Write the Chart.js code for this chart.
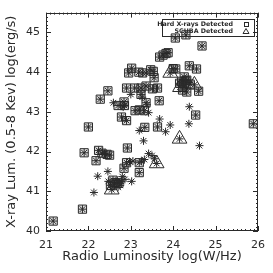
<!DOCTYPE html>
<html><head><meta charset="utf-8">
<script src="https://cdn.jsdelivr.net/npm/chart.js@4.4.1/dist/chart.umd.min.js"></script>
<style>html,body{margin:0;padding:0;background:#fff}#wrap{width:273px;height:273px}</style>
</head><body><div id="wrap"><canvas id="c" width="273" height="273"></canvas></div>
<script>
const radioLum = [24.05,24.30,24.68,23.68,23.76,23.83,23.88,23.02,22.95,23.19,23.28,23.36,23.47,23.53,23.55,23.93,24.00,24.06,24.38,24.55,
24.26,24.20,24.15,24.32,24.37,24.40,24.28,24.22,24.32,24.16,24.50,24.60,24.25,24.30,
22.46,22.28,22.59,22.70,22.84,22.85,22.82,22.90,23.09,23.00,23.24,23.24,23.27,23.36,23.51,23.63,23.67,23.36,23.38,23.10,23.20,23.32,23.42,
22.78,22.90,23.33,23.20,23.30,23.68,23.63,23.82,23.93,24.38,24.37,24.53,24.15,24.62,25.89,22.00,
21.90,22.24,22.32,22.38,22.44,22.50,22.18,22.22,22.13,21.86,21.17,22.46,22.92,22.90,22.97,23.05,22.84,22.80,23.20,23.25,23.32,23.42,23.50,23.56,23.61,23.20,23.02,
22.47,22.55,22.58,22.63,22.68,22.72,22.78,22.86,22.60,22.70,22.52,22.75];
const xrayLum = [44.86,44.94,44.66,44.38,44.43,44.47,44.49,44.10,43.98,44.00,43.98,43.98,44.06,44.02,43.86,43.98,44.09,44.08,44.16,44.08,
43.88,43.77,43.72,43.80,43.74,43.70,43.62,43.55,43.50,43.62,43.68,43.52,43.70,43.78,
43.53,43.32,43.23,43.16,43.25,43.16,43.12,43.60,43.60,43.44,43.60,43.44,43.37,43.65,43.58,43.60,43.28,43.23,43.18,43.03,43.05,43.03,42.98,
42.87,42.78,42.61,42.53,42.27,42.82,42.62,42.50,42.67,43.13,42.70,42.92,42.32,42.15,42.70,42.62,
41.97,42.03,41.96,41.95,41.93,41.91,41.77,41.38,40.97,40.55,40.25,41.50,42.09,41.72,41.75,41.76,41.58,41.37,41.72,41.76,41.80,41.95,41.90,41.82,41.70,41.47,41.25,
41.25,41.04,41.28,41.22,41.27,41.20,41.25,41.30,41.12,41.10,41.15,41.15];
const hardDetected = [1,1,1,1,1,1,1,1,1,1,1,0,1,1,1,0,1,1,1,1,
1,1,1,1,0,1,0,1,1,0,0,1,0,1,
1,1,0,1,1,1,0,1,1,0,1,1,0,1,1,1,1,1,0,1,1,1,0,
1,1,1,0,0,0,1,0,0,0,0,1,0,0,1,1,
1,1,1,0,1,1,1,0,0,1,1,0,1,1,0,0,1,0,1,0,0,0,0,0,0,1,0,
0,0,1,1,0,1,0,0,0,0,1,0];
const scubaDetected = [0,0,0,0,0,0,0,0,0,0,0,0,0,0,0,1,0,0,0,0,
0,0,0,0,0,0,0,0,0,1,1,0,0,0,
0,0,0,0,0,0,0,0,0,0,0,0,0,0,0,0,0,0,0,0,0,0,0,
0,0,0,0,0,0,0,0,0,0,0,0,1,0,0,0,
0,0,0,0,0,0,0,0,0,0,0,0,0,0,0,0,0,0,0,0,0,0,0,0,1,0,0,
0,1,0,0,0,0,0,0,0,0,0,0];
const xTicks = [21,22,23,24,25,26];
const yTicks = [40,41,42,43,44,45];
const legendLabels = ['Hard X-rays Detected', 'SCUBA Detected'];

const allPts = radioLum.map((x,i)=>({x, y: xrayLum[i]}));
const hardPts = allPts.filter((p,i)=>hardDetected[i]);
const scubaPts = allPts.filter((p,i)=>scubaDetected[i]);
const INK = '#2a2a2a';

const framePlugin = {
  id: 'frame',
  afterDatasetsDraw(chart) {
    const {ctx, chartArea: a, scales: {x, y}} = chart;
    ctx.save();
    ctx.strokeStyle = INK; ctx.lineWidth = 1;
    ctx.strokeRect(Math.round(a.left)+0.5, Math.round(a.top)+0.5, Math.round(a.right-a.left)-1, Math.round(a.bottom-a.top)-1);
    ctx.beginPath();
    for (let v = Math.round(x.min*10); v <= Math.round(x.max*10); v++) {
      const px = Math.round(x.getPixelForValue(v/10)) + 0.5;
      const len = v % 10 === 0 ? 5 : 2;
      ctx.moveTo(px, a.bottom); ctx.lineTo(px, a.bottom - len);
      ctx.moveTo(px, a.top); ctx.lineTo(px, a.top + len);
    }
    for (let v = Math.round(y.min*10); v <= Math.round(y.max*10); v++) {
      const py = Math.round(y.getPixelForValue(v/10)) + 0.5;
      const len = v % 10 === 0 ? 5 : 2;
      ctx.moveTo(a.left, py); ctx.lineTo(a.left + len, py);
      ctx.moveTo(a.right, py); ctx.lineTo(a.right - len, py);
    }
    ctx.stroke();
    // legend box
    const bw = 92, bh = 17;
    const bx = Math.round(a.right) - 4 - bw, by = Math.round(a.top) + 6;
    ctx.strokeRect(bx+0.5, by+0.5, bw, bh);
    ctx.fillStyle = INK;
    ctx.font = 'bold 6.3px "DejaVu Sans"';
    ctx.textAlign = 'right'; ctx.textBaseline = 'middle';
    ctx.fillText(legendLabels[0], bx + 71, by + 5.5);
    ctx.fillText(legendLabels[1], bx + 71, by + 12);
    ctx.strokeRect(bx + 82.5, by + 3.5, 4, 4);
    ctx.beginPath();
    ctx.moveTo(bx + 84, by + 9.5); ctx.lineTo(bx + 87, by + 14.5); ctx.lineTo(bx + 81, by + 14.5); ctx.closePath();
    ctx.stroke();
    ctx.restore();
  }
};

new Chart(document.getElementById('c'), {
  type: 'scatter',
  data: {
    datasets: [
      {label: 'sources', data: allPts, pointStyle: 'star', pointRadius: 4, borderColor: INK, borderWidth: 1, backgroundColor: 'transparent'},
      {label: legendLabels[0], data: hardPts, pointStyle: 'rect', pointRadius: 5.8, borderColor: INK, borderWidth: 1, backgroundColor: 'rgba(0,0,0,0.12)'},
      {label: legendLabels[1], data: scubaPts, pointStyle: 'triangle', pointRadius: 8.5, borderColor: INK, borderWidth: 1, backgroundColor: 'transparent'}
    ]
  },
  options: {
    responsive: false,
    animation: false,
    devicePixelRatio: 1,
    layout: {padding: {top: 9, right: 11, left: 0, bottom: 0}},
    plugins: {legend: {display: false}, tooltip: {enabled: false}},
    scales: {
      x: {
        type: 'linear', min: 21, max: 26,
        afterBuildTicks: s => { s.ticks = xTicks.map(v => ({value: v})); },
        afterFit: s => { s.height = 42; },
        grid: {display: false, drawTicks: false}, border: {display: false},
        ticks: {color: INK, font: {family: '"DejaVu Sans"', size: 11}, padding: 8, maxRotation: 0},
        title: {display: true, text: 'Radio Luminosity log(W/Hz)', color: INK, font: {family: '"DejaVu Sans"', size: 13}, padding: {top: 0, bottom: 9}}
      },
      y: {
        type: 'linear', min: 40, max: 45.5,
        afterBuildTicks: s => { s.ticks = yTicks.map(v => ({value: v})); },
        afterFit: s => { s.width = 46; },
        grid: {display: false, drawTicks: false}, border: {display: false},
        ticks: {color: INK, font: {family: '"DejaVu Sans"', size: 11}, padding: 6},
        title: {display: true, text: 'X-ray Lum. (0.5-8 Kev) log(erg/s)', color: INK, font: {family: '"DejaVu Sans"', size: 13}, padding: {top: 4, bottom: 0}}
      }
    }
  },
  plugins: [framePlugin]
});
</script></body></html>
